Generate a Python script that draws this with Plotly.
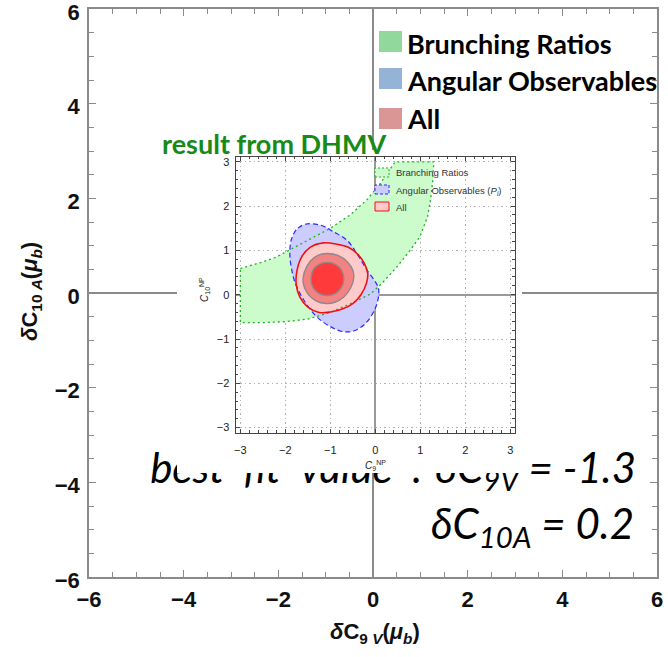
import plotly.graph_objects as go

# ---------------- data ----------------
main_ticks = [-6, -4, -2, 0, 2, 4, 6]
inset_ticks = [-3, -2, -1, 0, 1, 2, 3]

legend_labels = ["Brunching Ratios", "Angular Observables", "All"]
legend_colors = ["#90d89c", "#95b3d7", "#d99694"]

inset_legend_labels = ["Branching Ratios", "Angular Observables (<i>P<sub>i</sub></i>)", "All"]

# Branching ratios region (green)
br_x = [-3.0, -2.5, -2.2, -1.89, -1.5, -1.0, -0.56, -0.19, 0.11, 0.28, 0.44, 1.30,
        1.27, 1.22, 1.16, 0.99, 0.78, 0.48, 0.15, -0.1, -0.5, -1.0, -1.5, -2.0, -2.5, -3.0, -3.0]
br_y = [0.59, 0.74, 0.85, 1.02, 1.23, 1.50, 1.80, 2.14, 2.51, 2.75, 3.0, 3.0,
        2.51, 2.10, 1.76, 1.31, 1.01, 0.63, 0.26, 0.02, -0.18, -0.40, -0.55, -0.61, -0.63, -0.63, 0.59]

# Angular observables region (blue)
ang_x = [-1.56, -1.76, -1.87, -1.90, -1.87, -1.78, -1.59, -1.30, -1.00, -0.74, -0.48,
         -0.22, -0.02, 0.07, 0.07, 0.00, -0.19, -0.41, -0.63, -0.93, -1.22, -1.56]
ang_y = [1.59, 1.46, 1.23, 0.93, 0.63, 0.26, -0.12, -0.50, -0.72, -0.83, -0.82,
         -0.65, -0.35, -0.05, 0.14, 0.29, 0.56, 0.93, 1.23, 1.42, 1.57, 1.59]

# All: three nested contours
all1_x = [-1.15, -0.85, -0.60, -0.40, -0.25, -0.17, -0.20, -0.32, -0.50, -0.75, -1.00,
          -1.25, -1.50, -1.68, -1.76, -1.74, -1.64, -1.45, -1.15]
all1_y = [1.17, 1.14, 1.07, 0.92, 0.72, 0.48, 0.25, 0.00, -0.20, -0.33, -0.39,
          -0.40, -0.28, -0.05, 0.25, 0.55, 0.85, 1.07, 1.17]
all2_x = [-1.07, -0.82, -0.62, -0.50, -0.48, -0.55, -0.70, -0.90, -1.10, -1.32, -1.50,
          -1.60, -1.58, -1.45, -1.28, -1.07]
all2_y = [0.93, 0.88, 0.74, 0.55, 0.38, 0.15, -0.05, -0.17, -0.20, -0.14, 0.02,
          0.25, 0.50, 0.75, 0.89, 0.93]
all3_x = [-1.07, -0.88, -0.75, -0.70, -0.75, -0.88, -1.07, -1.26, -1.39, -1.43, -1.39, -1.26, -1.07]
all3_y = [0.73, 0.68, 0.55, 0.36, 0.17, 0.03, -0.02, 0.03, 0.17, 0.36, 0.55, 0.68, 0.73]

SP = "\u2002"
SP2 = "\u2004"
best_fit_line1 = f"best{SP}fit{SP}value{SP}:{SP2}δC<sub>9V</sub> = -1.3"
best_fit_line2 = "δC<sub>10A</sub> = 0.2"

# ---------------- geometry helpers (pixels of the 668x657 page) ----------------
W, H = 668, 657
L, R, T, B = 89, 657, 9, 577  # main plot frame in pixels


def pxx(px):
    return (px - L) / (R - L)


def pxy(py):
    return (B - py) / (B - T)


def dx(px):  # main data x from pixel
    return (px - L) / (R - L) * 12 - 6


def dy(py):
    return 6 - (py - T) / (B - T) * 12


fig = go.Figure()

# main axes: best-fit first line as a text trace (so the inset mask can cover its top)
fig.add_trace(go.Scatter(
    x=[dx(636)], y=[dy(472)], mode="text", text=[best_fit_line1],
    textposition="middle left",
    textfont=dict(family="Lato", size=42, color="black", style="italic"),
    hoverinfo="skip", showlegend=False, xaxis="x", yaxis="y"))

# mask subplot (x2,y2) -- white background of the pasted inset
fig.add_trace(go.Scatter(x=[0.5], y=[0.5], mode="markers", marker=dict(opacity=0),
                         hoverinfo="skip", showlegend=False, xaxis="x2", yaxis="y2"))

# inset fills
def fill_trace(xs, ys, color, shape):
    return go.Scatter(x=xs, y=ys, mode="lines", fill="toself", fillcolor=color,
                      line=dict(width=0, shape=shape), hoverinfo="skip",
                      showlegend=False, xaxis="x3", yaxis="y3")


def line_trace(xs, ys, color, dash, width, shape):
    return go.Scatter(x=xs, y=ys, mode="lines",
                      line=dict(color=color, dash=dash, width=width, shape=shape),
                      hoverinfo="skip", showlegend=False, xaxis="x3", yaxis="y3")


fig.add_trace(fill_trace(br_x, br_y, "#ccfccc", "linear"))
fig.add_trace(fill_trace(ang_x, ang_y, "#ccccff", "spline"))
fig.add_trace(fill_trace(all1_x, all1_y, "#ffcaca", "spline"))
fig.add_trace(fill_trace(all2_x, all2_y, "#f48282", "spline"))
fig.add_trace(fill_trace(all3_x, all3_y, "#ff3a3a", "spline"))
fig.add_trace(line_trace(br_x, br_y, "#22b022", "2px,3px", 1.3, "linear"))
fig.add_trace(line_trace(ang_x, ang_y, "#2a2aff", "5px,3px", 1.2, "spline"))
fig.add_trace(line_trace(all2_x, all2_y, "#8a8a8a", "solid", 1.4, "spline"))
fig.add_trace(line_trace(all3_x, all3_y, "#8a8a8a", "solid", 1.4, "spline"))
fig.add_trace(line_trace(all1_x, all1_y, "#ee1111", "solid", 1.6, "spline"))

axis_font = dict(family="Liberation Sans", size=22, color="#111", weight="bold")
main_axis = dict(range=[-6, 6], tickmode="linear", tick0=0, dtick=2, showline=True,
                 linecolor="#8a8a8a", linewidth=1.5, mirror="allticks", ticks="inside",
                 ticklen=7, tickwidth=1.3, tickcolor="#8a8a8a", showgrid=False,
                 zeroline=True, zerolinecolor="#8a8a8a", zerolinewidth=1.5,
                 tickfont=axis_font, ticklabeloverflow="allow", automargin=False,
                 minor=dict(dtick=0.5, tick0=0, ticks="inside", ticklen=5, tickwidth=1,
                            tickcolor="#8a8a8a", showgrid=False))

in_x0, in_x1, in_y0, in_y1 = 235.7, 515.0, 432.7, 156.7
inset_font = dict(family="Liberation Sans", size=11, color="#222")
inset_axis = dict(tickmode="linear", tick0=0, dtick=1, showline=True, linecolor="#444",
                  linewidth=1.2, mirror="allticks", ticks="inside", ticklen=4, tickwidth=1,
                  tickcolor="#444", showgrid=True, gridcolor="#b4b4b4", griddash="1.5px,3px",
                  gridwidth=1, zeroline=True, zerolinecolor="#999", zerolinewidth=2,
                  tickfont=inset_font, automargin=False,
                  minor=dict(dtick=0.2, tick0=0, ticks="inside", ticklen=2.5, tickwidth=1,
                             tickcolor="#444", showgrid=False))

fig.update_layout(
    width=W, height=H, margin=dict(l=L, r=W - R, t=T, b=H - B, autoexpand=False),
    paper_bgcolor="white", plot_bgcolor="white", showlegend=False,
    xaxis=dict(main_axis, domain=[0, 1], anchor="y", ticklabelstandoff=2),
    yaxis=dict(main_axis, domain=[0, 1], anchor="x", ticklabelstandoff=3,
               ticklabelshift=3),
    xaxis2=dict(domain=[pxx(177), pxx(522)], range=[0, 1], visible=False, anchor="y2",
                automargin=False),
    yaxis2=dict(domain=[pxy(473), pxy(150)], range=[0, 1], visible=False, anchor="x2",
                automargin=False),
    xaxis3=dict(inset_axis, domain=[pxx(in_x0), pxx(in_x1)], range=[-3.103, 3.103],
                anchor="y3", ticklabelstandoff=7),
    yaxis3=dict(inset_axis, domain=[pxy(in_y0), pxy(in_y1)], range=[-3.115, 3.115],
                anchor="x3", ticklabelstandoff=3),
)

shapes = [dict(type="rect", xref="x2", yref="y2", x0=0, x1=1, y0=0, y1=1, layer="below",
               fillcolor="white", line=dict(width=0))]

# main legend squares
for i, c in enumerate(legend_colors):
    top = [31, 68, 108][i]
    shapes.append(dict(type="rect", xref="paper", yref="paper", x0=pxx(379), x1=pxx(402),
                       y0=pxy(top + 21), y1=pxy(top), fillcolor=c, line=dict(width=0),
                       layer="above"))

# inset legend boxes
ib_fill = ["#ccfccc", "#ccccff", "#ffcaca"]
ib_line = ["#22b022", "#2a2aff", "#ee1111"]
ib_dash = ["2px,2px", "3px,2px", "solid"]
for i in range(3):
    top = [168, 185, 202][i]
    shapes.append(dict(type="rect", xref="paper", yref="paper", x0=pxx(375), x1=pxx(389),
                       y0=pxy(top + 9), y1=pxy(top), fillcolor=ib_fill[i],
                       line=dict(color=ib_line[i], dash=ib_dash[i], width=1), layer="above"))
fig.update_layout(shapes=shapes)

ann = []
# axis titles
title_font = dict(family="Liberation Sans", size=22, color="#111", weight="bold")
ann.append(dict(xref="paper", yref="paper", x=pxx(375), y=pxy(633), showarrow=False,
                text="<i>δ</i>C<sub>9 <i>V</i></sub>(<i>μ<sub>b</sub></i>)", font=title_font,
                xanchor="center", yanchor="middle"))
ann.append(dict(xref="paper", yref="paper", x=pxx(31), y=pxy(292), showarrow=False,
                text="<i>δ</i>C<sub>10 <i>A</i></sub>(<i>μ<sub>b</sub></i>)", font=title_font,
                textangle=-90, xanchor="center", yanchor="middle"))
# main legend labels
for i, lab in enumerate(legend_labels):
    yc = [43, 80, 119][i]
    ann.append(dict(xref="paper", yref="paper", x=pxx(405), y=pxy(yc), showarrow=False,
                    text=lab, xanchor="left", yanchor="middle",
                    font=dict(family="Lato", size=27, color="black", weight="bold")))
# DHMV label
ann.append(dict(xref="paper", yref="paper", x=pxx(274), y=pxy(143), showarrow=False,
                text="result from DHMV", xanchor="center", yanchor="middle",
                font=dict(family="Lato", size=27, color="#178a17", weight="bold")))
# best fit second line
ann.append(dict(xref="paper", yref="paper", x=pxx(636), y=pxy(526), showarrow=False,
                text=best_fit_line2, xanchor="right", yanchor="middle",
                font=dict(family="Lato", size=42, color="black", style="italic")))
# inset axis titles
ann.append(dict(xref="paper", yref="paper", x=pxx(375), y=pxy(465), showarrow=False,
                text="<i>C</i><sub>9</sub><sup>NP</sup>", xanchor="center", yanchor="middle",
                font=dict(family="Liberation Sans", size=10, color="#222")))
ann.append(dict(xref="paper", yref="paper", x=pxx(204), y=pxy(290), showarrow=False,
                text="<i>C</i><sub>10</sub><sup>NP</sup>", xanchor="center", yanchor="middle",
                textangle=-90, font=dict(family="Liberation Sans", size=10, color="#222")))
# inset legend labels
for i, lab in enumerate(inset_legend_labels):
    yc = [173, 191, 207][i]
    ann.append(dict(xref="paper", yref="paper", x=pxx(394), y=pxy(yc), showarrow=False,
                    text=lab, xanchor="left", yanchor="middle",
                    font=dict(family="Liberation Sans", size=9.5, color="#333")))
fig.update_layout(annotations=ann)

fig.write_html("out.html")
